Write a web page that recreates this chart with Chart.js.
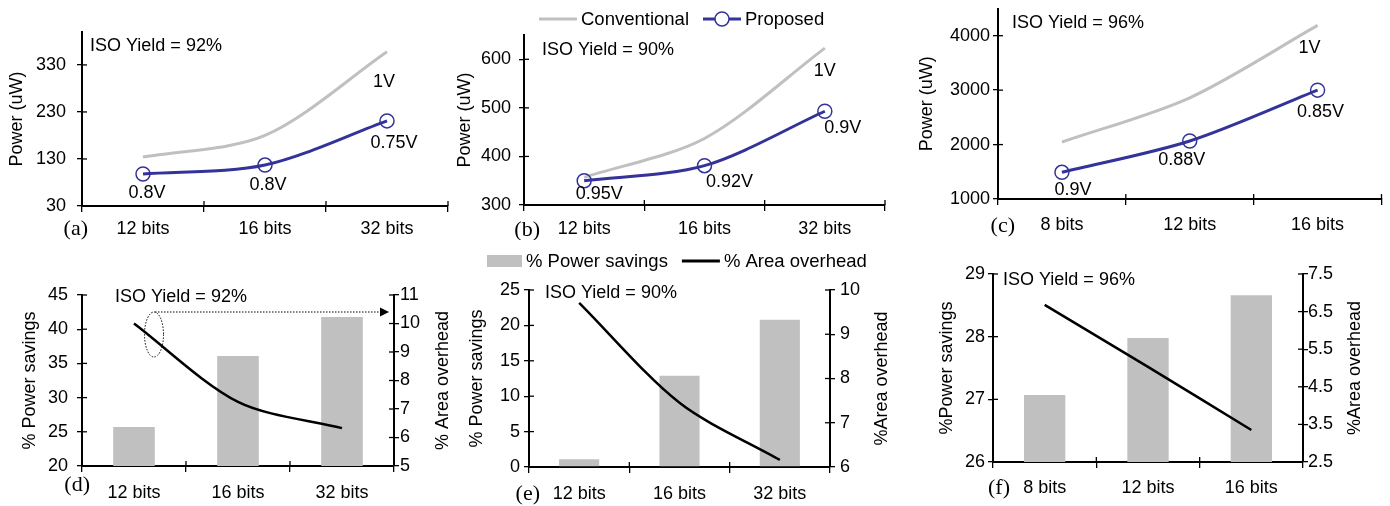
<!DOCTYPE html>
<html>
<head>
<meta charset="utf-8">
<script src="https://cdn.jsdelivr.net/npm/chart.js@4.4.1/dist/chart.umd.min.js"></script>
<style>
  body { margin: 0; width: 1390px; height: 506px; background: #fff; position: relative; overflow: hidden; }
  .panel { position: absolute; }
</style>
</head>
<body>
<div class="panel" style="left:0;top:0;width:460px;height:240px"><canvas id="chartA"></canvas></div>
<div class="panel" style="left:450px;top:0;width:450px;height:240px"><canvas id="chartB"></canvas></div>
<div class="panel" style="left:905px;top:0;width:485px;height:240px"><canvas id="chartC"></canvas></div>
<div class="panel" style="left:0;top:250px;width:460px;height:256px"><canvas id="chartD"></canvas></div>
<div class="panel" style="left:455px;top:240px;width:450px;height:266px"><canvas id="chartE"></canvas></div>
<div class="panel" style="left:905px;top:250px;width:485px;height:256px"><canvas id="chartF"></canvas></div>
<script>
// categories
const bits12 = ['12 bits', '16 bits', '32 bits']
const bits8 = ['8 bits', '12 bits', '16 bits']

// top row: power (uW)
const convA = [134, 180, 358]
const propA = [98, 117, 211]
const voltA = ['0.8V', '0.8V', '0.75V']
const convB = [357, 437, 623]
const propB = [350, 381, 493]
const voltB = ['0.95V', '0.92V', '0.9V']
const convC = [2045, 2860, 4190]
const propC = [1490, 2065, 3000]
const voltC = ['0.9V', '0.88V', '0.85V']

// bottom row: % power savings (bars) and % area overhead (line)
const savingD = [25.7, 36.1, 41.8]
const areaD = [10.0, 7.25, 6.33]
const savingE = [1.1, 12.9, 20.8]
const areaE = [9.71, 7.45, 6.16]
const savingF = [27.07, 27.98, 28.66]
const areaF = [6.68, 5.03, 3.35]

// tick labels
const ticksA = [30, 130, 230, 330]
const ticksB = [300, 400, 500, 600]
const ticksC = [1000, 2000, 3000, 4000]
const ticksD = [20, 25, 30, 35, 40, 45]
const ticksD2 = [5, 6, 7, 8, 9, 10, 11]
const ticksE = [0, 5, 10, 15, 20, 25]
const ticksE2 = [6, 7, 8, 9, 10]
const ticksF = [26, 27, 28, 29]
const ticksF2 = [2.5, 3.5, 4.5, 5.5, 6.5, 7.5]

const SANS = 'Liberation Sans, Arial, sans-serif'
const font = { family: SANS, size: 18 }
const GRAY = '#c0c0c0'
const BLUE = '#333399'

function yScale(pos, min, max, ticks, title, width, pad, titlePad) {
  return {
    position: pos, min, max,
    afterBuildTicks: s => { s.ticks = ticks.map(v => ({ value: v })) },
    afterFit: s => { s.width = width; s.paddingTop = 0; s.paddingBottom = 0 },
    grid: { drawOnChartArea: false, tickLength: 5, color: '#000', lineWidth: 1.3 },
    border: { color: '#000', width: 2 },
    ticks: { color: '#000', font, padding: pad, callback: v => String(v) },
    // right-hand titles read bottom-to-top in the figure, so the plugin draws those
    title: { display: pos === 'left', text: title, color: '#000', font, padding: { top: titlePad, bottom: 0 } }
  }
}

function xScale(labels, height, pad) {
  return {
    type: 'category', labels, offset: true,
    afterFit: s => { s.height = height; s.paddingLeft = 0; s.paddingRight = 0 },
    grid: { offset: true, drawOnChartArea: false, tickLength: 6, color: '#000', lineWidth: 1.3 },
    border: { color: '#000', width: 2 },
    ticks: { color: '#000', font, padding: pad, maxRotation: 0, autoSkip: false }
  }
}

// texts, inner tick marks, legends and the callout drawn on top of each chart
const deco = {
  id: 'deco',
  afterDraw(chart, args, o) {
    const { ctx, chartArea: a } = chart
    ctx.save()
    ctx.strokeStyle = '#000'
    ctx.lineWidth = 1.3
    const seg = (x1, y1, x2, y2) => { ctx.beginPath(); ctx.moveTo(x1, y1); ctx.lineTo(x2, y2); ctx.stroke() }
    Object.values(chart.scales).forEach(s => {
      if (s.axis === 'x') {
        const n = s.getLabels().length
        for (let i = 0; i <= n; i++) {
          const x = s.getPixelForValue(i - 0.5)
          seg(x, a.bottom, x, a.bottom - 5)
        }
      } else {
        const left = s.position === 'left'
        s.ticks.forEach(t => {
          const y = s.getPixelForValue(t.value)
          const x = left ? a.left : a.right
          seg(x, y, left ? x + 5 : x - 5, y)
        })
      }
    })

    ctx.fillStyle = '#000'
    ctx.textBaseline = 'middle'

    ctx.font = '22px Liberation Serif, Times New Roman, serif'
    ctx.textAlign = 'right'
    ctx.fillText(o.tag, a.left + o.tagAt[0], a.bottom + o.tagAt[1])

    ctx.font = '18px ' + SANS
    ctx.textAlign = 'left'
    ctx.fillText(o.iso, a.left + o.isoAt[0], a.top + o.isoAt[1])

    ctx.textAlign = 'center'
    ;(o.notes || []).forEach(n => {
      const el = chart.getDatasetMeta(n.ds).data[n.i]
      ctx.fillText(n.text, el.x + n.dx, el.y + n.dy)
    })

    if (o.rightTitle) {
      ctx.save()
      ctx.translate(chart.width - o.rightTitle.dx, (a.top + a.bottom) / 2)
      ctx.rotate(-Math.PI / 2)
      ctx.fillText(chart.scales.y2.options.title.text, 0, 0)
      ctx.restore()
    }

    if (o.callout) {
      const el = chart.getDatasetMeta(0).data[0]
      const cx = el.x + 20, cy = el.y + 11
      ctx.lineWidth = 1
      ctx.setLineDash([1.5, 1.5])
      ctx.beginPath()
      ctx.ellipse(cx, cy, 9.5, 22.5, 0, 0, Math.PI * 2)
      ctx.stroke()
      const ay = cy - 22.5
      seg(cx + 1, ay, a.right - 13, ay)
      ctx.setLineDash([])
      ctx.beginPath()
      ctx.moveTo(a.right - 5, ay)
      ctx.lineTo(a.right - 14, ay - 4.5)
      ctx.lineTo(a.right - 14, ay + 4.5)
      ctx.closePath()
      ctx.fill()
    }

    if (o.legend) {
      ctx.font = '18.5px ' + SANS
      ctx.textAlign = 'left'
      let x = o.legend.x
      const y = o.legend.y
      o.legend.items.forEach(it => {
        if (it.kind === 'box') {
          ctx.fillStyle = it.color
          ctx.fillRect(x, y - 6, 35, 12)
          x += 39
        } else {
          ctx.strokeStyle = it.color
          ctx.lineWidth = 3
          seg(x, y, x + 38, y)
          if (it.marker) {
            ctx.lineWidth = 1.5
            ctx.beginPath()
            ctx.arc(x + 19, y, 7, 0, Math.PI * 2)
            ctx.fillStyle = '#fff'
            ctx.fill()
            ctx.stroke()
          }
          x += 42
        }
        ctx.fillStyle = '#000'
        ctx.fillText(it.text, x, y + 1)
        x += ctx.measureText(it.text).width + 14
      })
    }
    ctx.restore()
  }
}

function powerChart(id, labels, conv, prop, volts, yr, ticks, geo, extra) {
  const notes = volts.map((t, i) => ({ ds: 0, i, text: t, dx: geo.notes[i][0], dy: geo.notes[i][1] }))
  notes.push({ ds: 1, i: 2, text: '1V', dx: geo.oneV[0], dy: geo.oneV[1] })
  return new Chart(document.getElementById(id), {
    type: 'line',
    data: {
      labels,
      datasets: [
        { label: 'Proposed', data: prop, borderColor: BLUE, borderWidth: 3, tension: 0.3,
          pointRadius: 7, pointBorderWidth: 1.5, pointBorderColor: BLUE, pointBackgroundColor: 'rgba(255,255,255,0)' },
        { label: 'Conventional', data: conv, borderColor: GRAY, borderWidth: 3, tension: 0.3, pointRadius: 0 }
      ]
    },
    options: {
      responsive: true,
      maintainAspectRatio: false,
      animation: false,
      layout: { padding: { top: geo.top, right: geo.right, left: 0, bottom: 0 } },
      scales: {
        x: xScale(labels, geo.xh, geo.xpad),
        y: yScale('left', yr[0], yr[1], ticks, 'Power (uW)', geo.yw, geo.ypad, geo.tpad)
      },
      plugins: {
        legend: { display: false },
        tooltip: { enabled: false },
        deco: Object.assign({ notes }, extra)
      }
    },
    plugins: [deco]
  })
}

function savingChart(id, labels, saving, area, yr, ticks, yr2, ticks2, geo, extra) {
  return new Chart(document.getElementById(id), {
    type: 'bar',
    data: {
      labels,
      datasets: [
        { type: 'line', label: '% Area overhead', data: area, yAxisID: 'y2', borderColor: '#000',
          borderWidth: 2.5, tension: 0.3, pointRadius: 0 },
        { type: 'bar', label: '% Power savings', data: saving, yAxisID: 'y', backgroundColor: GRAY,
          barPercentage: 0.4, categoryPercentage: 1 }
      ]
    },
    options: {
      responsive: true,
      maintainAspectRatio: false,
      animation: false,
      layout: { padding: { top: geo.top, right: 0, left: 0, bottom: 0 } },
      scales: {
        x: xScale(labels, geo.xh, geo.xpad),
        y: yScale('left', yr[0], yr[1], ticks, geo.t1, geo.yw, geo.ypad, geo.tpad),
        y2: yScale('right', yr2[0], yr2[1], ticks2, geo.t2, geo.y2w, geo.y2pad, 0)
      },
      plugins: {
        legend: { display: false },
        tooltip: { enabled: false },
        deco: Object.assign({ rightTitle: { dx: geo.t2dx } }, extra)
      }
    },
    plugins: [deco]
  })
}

powerChart('chartA', bits12, convA, propA, voltA, [30, 400], ticksA,
  { top: 32, right: 12, xh: 34, xpad: 6, yw: 82, ypad: 11, tpad: 6,
    notes: [[4, 19], [3, 20], [7, 22]], oneV: [-3, 30] },
  { tag: '(a)', tagAt: [6, 23], iso: 'ISO Yield = 92%', isoAt: [8, 14] })

powerChart('chartB', bits12, convB, propB, voltB, [300, 650], ticksB,
  { top: 35, right: 15, xh: 35, xpad: 7, yw: 74, ypad: 8, tpad: 4,
    notes: [[15, 13], [25, 16], [18, 17]], oneV: [0, 23] },
  { tag: '(b)', tagAt: [16, 25], iso: 'ISO Yield = 90%', isoAt: [18, 15],
    legend: { x: 89, y: 19, items: [
      { kind: 'line', color: GRAY, text: 'Conventional' },
      { kind: 'line', color: BLUE, marker: true, text: 'Proposed' }
    ] } })

powerChart('chartC', bits8, convC, propC, voltC, [1000, 4500], ticksC,
  { top: 5, right: 6, xh: 41, xpad: 9, yw: 93, ypad: 3, tpad: 11,
    notes: [[11, 18], [-8, 19], [3, 22]], oneV: [-8, 23] },
  { tag: '(c)', tagAt: [17, 27], iso: 'ISO Yield = 96%', isoAt: [14, 15] })

savingChart('chartD', bits12, savingD, areaD, [20, 45], ticksD, [5, 11], ticksD2,
  { top: 45, xh: 40, xpad: 10, yw: 82, ypad: 9, tpad: 19, y2w: 66, y2pad: 1, t2dx: 17,
    t1: '% Power savings', t2: '% Area overhead' },
  { tag: '(d)', tagAt: [8, 19], iso: 'ISO Yield = 92%', isoAt: [33, 2], callout: true })

savingChart('chartE', bits12, savingE, areaE, [0, 25], ticksE, [6, 10], ticksE2,
  { top: 50, xh: 39, xpad: 10, yw: 74, ypad: 4, tpad: 11, y2w: 75, y2pad: 5, t2dx: 23,
    t1: '% Power savings', t2: '%Area overhead' },
  { tag: '(e)', tagAt: [11, 27], iso: 'ISO Yield = 90%', isoAt: [16, 3],
    legend: { x: 32, y: 21, items: [
      { kind: 'box', color: GRAY, text: '% Power savings' },
      { kind: 'line', color: '#000', text: '% Area overhead' }
    ] } })

savingChart('chartF', bits8, savingF, areaF, [26, 29], ticksF, [2.5, 7.5], ticksF2,
  { top: 24, xh: 44, xpad: 9, yw: 88, ypad: 3, tpad: 31, y2w: 87, y2pad: 0, t2dx: 35,
    t1: '%Power savings', t2: '%Area overhead' },
  { tag: '(f)', tagAt: [17, 26], iso: 'ISO Yield = 96%', isoAt: [10, 6] })
</script>
</body>
</html>
